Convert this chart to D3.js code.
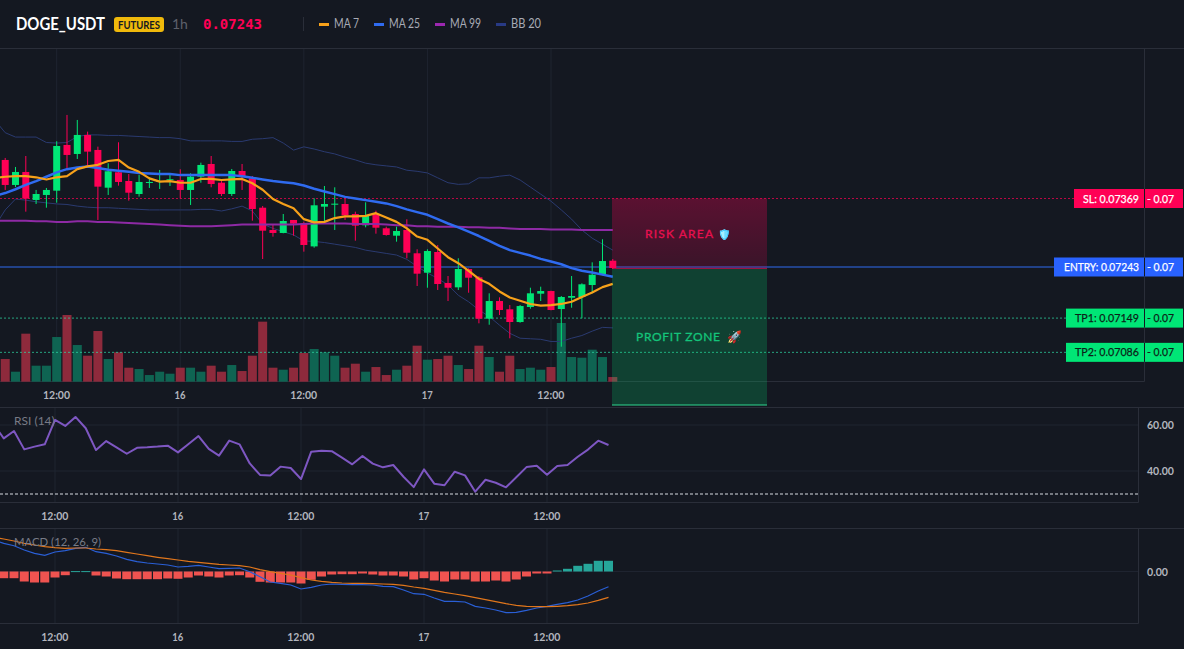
<!DOCTYPE html>
<html>
<head>
<meta charset="utf-8">
<script src="https://cdn.jsdelivr.net/npm/d3@7/dist/d3.min.js"></script>
<style>
  html, body { margin: 0; padding: 0; background: #141821; overflow: hidden; }
  svg { display: block; }
  text { font-family: Lato, "Noto Sans", sans-serif; }
</style>
</head>
<body>
<svg id="chart" width="1184" height="649"></svg>
<script>
// DOGE_USDT 1h candles. Prices are in units of 0.00001 USDT; hours count from 15th 12:00.
const hours = d3.range(-6, 55);

const opens = [
  7410, 7439.9, 7393.9, 7417.8, 7366.3, 7375.5, 7383.4, 7467.5, 7450.9, 7485.9,
  7458.3, 7388.9, 7417.2, 7401.2, 7377.3, 7398.1, 7399.9, 7402.5, 7403.1, 7384.7,
  7409.2, 7432.5, 7398.1, 7377.3, 7419.6, 7406.2, 7352.1, 7311.1, 7305.6, 7329.5,
  7323.4, 7280.9, 7354, 7357.6, 7358.9, 7340.5, 7319.7, 7340.5, 7314.2, 7300.6,
  7311.1, 7268.2, 7232.5, 7270.6, 7213.6, 7205.6, 7239.3, 7224, 7147.9, 7180.4,
  7165.2, 7141.8, 7169.4, 7193.9, 7198.8, 7165.7, 7186.5, 7187.8, 7209.9, 7228.8, 7254.6
];
const highs = [
  7445, 7443.6, 7427, 7447.2, 7384.7, 7388.4, 7474.3, 7522.7, 7513.5, 7492,
  7464.4, 7433.8, 7472.4, 7414.1, 7412.3, 7408, 7421.5, 7415.4, 7422.8, 7415.4,
  7434.9, 7447.2, 7403.1, 7423.3, 7432.5, 7410.4, 7355.2, 7320.3, 7340.5, 7329.5,
  7326.4, 7369.4, 7392, 7389.6, 7369.4, 7344.8, 7362, 7346.6, 7317.2, 7317.2,
  7330.8, 7275.6, 7275.6, 7283.5, 7226.4, 7259, 7240.6, 7226.4, 7194.6, 7187.2,
  7173.1, 7173.1, 7204.9, 7206.8, 7199.4, 7189.6, 7226.4, 7213, 7251.6, 7294, 7257.7
];
const lows = [
  7400, 7384.7, 7390.2, 7344.8, 7358.9, 7352.1, 7361.3, 7424.6, 7441.7, 7429.4,
  7329.5, 7375.5, 7392.6, 7365, 7372.4, 7388.4, 7386.5, 7392, 7368.7, 7357.1,
  7398.1, 7389.6, 7373.6, 7373.6, 7384.7, 7328.2, 7257.7, 7298.8, 7305, 7300.6,
  7271.2, 7278.5, 7326.4, 7311.1, 7329.5, 7291.4, 7316, 7304.3, 7300.6, 7289.6,
  7259, 7208, 7204.9, 7200.7, 7180.4, 7200.7, 7195.7, 7139.4, 7136.8, 7154.7,
  7111.8, 7140.5, 7166.3, 7180.4, 7163.3, 7096.4, 7168.1, 7148.6, 7194.6, 7227.7, 7239.3
];
const closes = [
  7439.9, 7393.9, 7417.8, 7368.7, 7377.3, 7384.7, 7465.6, 7449.1, 7485.9, 7455.2,
  7390.8, 7419.1, 7399.4, 7379.7, 7399.4, 7399.4, 7401.2, 7404.4, 7384.7, 7409.2,
  7430.7, 7395.7, 7377.3, 7419.6, 7410.4, 7349.7, 7309.8, 7305.6, 7327.6, 7322.7,
  7283.5, 7356.5, 7358.9, 7359.5, 7338.1, 7319, 7336.8, 7315.3, 7301.9, 7309.2,
  7269.3, 7230.7, 7272.4, 7211.7, 7204.9, 7239.3, 7223.3, 7147.9, 7180.4, 7163.9,
  7141.8, 7171.2, 7194.6, 7198.8, 7163.9, 7187.8, 7189.6, 7211.2, 7228.8, 7254, 7241.2
];
const volumes = [
  30, 34, 15, 72, 24, 24, 67, 100, 55, 39,
  76, 34, 44, 21, 19, 10, 15, 12, 21, 21,
  15, 24, 15, 25, 16, 39, 90, 21, 18, 21,
  43, 49, 44, 39, 21, 27, 15, 22, 10, 18,
  24, 54, 33, 34, 39, 25, 19, 54, 37, 15,
  39, 19, 21, 18, 22, 88, 37, 36, 48, 37, 7
];
const ma7 = [
  7407, 7409, 7410, 7410, 7408, 7404, 7408, 7410, 7423, 7428,
  7431, 7438, 7440, 7426, 7418, 7406, 7400, 7401, 7398, 7398,
  7405, 7405, 7403, 7404, 7405, 7397, 7385, 7368, 7359, 7351,
  7331, 7325, 7326, 7333, 7336, 7336, 7337, 7342, 7334, 7326,
  7314, 7299, 7293, 7277, 7261, 7250, 7236, 7221, 7212, 7198,
  7187, 7181, 7175, 7172, 7173, 7175, 7179, 7188, 7196, 7206, 7212
];
const ma25 = [
  7374, 7379, 7386, 7394, 7401, 7409, 7417, 7423, 7426, 7428,
  7425, 7422, 7420, 7418, 7416, 7415, 7414, 7414, 7412, 7412,
  7412, 7412, 7412, 7412, 7410, 7407, 7404, 7401, 7399, 7397,
  7393, 7387, 7382, 7377, 7372, 7369, 7366, 7363, 7360, 7355,
  7349, 7344, 7339, 7331, 7323, 7316, 7308, 7300, 7291, 7282,
  7274, 7269, 7264, 7258, 7253, 7248, 7241, 7236, 7233, 7229, 7225
];
const ma99 = [
  7328, 7328, 7328, 7328, 7327, 7327, 7326, 7326, 7327, 7327,
  7326, 7326, 7325, 7324, 7323, 7322, 7321, 7320, 7319, 7318,
  7318, 7318, 7319, 7320, 7321, 7321, 7321, 7321, 7321, 7321,
  7322, 7323, 7323, 7323, 7323, 7322, 7322, 7322, 7321, 7320,
  7320, 7318, 7318, 7317, 7317, 7317, 7316, 7316, 7315, 7315,
  7314, 7313, 7313, 7313, 7312, 7312, 7312, 7311, 7311, 7311, 7311
];
const bbUpper = [
  7513, 7490, 7482, 7482, 7482, 7472, 7471, 7472, 7483, 7486,
  7486, 7485, 7485, 7484, 7483, 7482, 7481, 7481, 7479, 7475,
  7475, 7475, 7475, 7474, 7474, 7478, 7479, 7481, 7471, 7458,
  7464, 7460, 7455, 7451, 7445, 7440, 7434, 7431, 7429, 7427,
  7421, 7419, 7416, 7407, 7398, 7395, 7396, 7407, 7407, 7410,
  7412, 7403, 7390, 7377, 7364, 7348, 7331, 7311, 7296, 7285, 7274
];
const bbLower = [
  7318, 7348, 7368, 7366, 7363, 7361, 7359, 7358, 7355, 7353,
  7352, 7352, 7351, 7350, 7349, 7348, 7348, 7348, 7348, 7348,
  7349, 7349, 7346, 7350, 7355, 7346, 7322, 7314, 7308, 7302,
  7291, 7290, 7288, 7285, 7282, 7279, 7274, 7271, 7268, 7265,
  7257, 7244, 7232, 7222, 7210, 7191, 7179, 7164, 7152, 7136,
  7121, 7112, 7111, 7110, 7106, 7106, 7112, 7117, 7125, 7132, 7131
];
const rsi = [
  60.4, 54.2, 57.4, 49.4, 50.6, 51.6, 62.2, 59.6, 63.5, 58.6,
  49.1, 53, 50.3, 47.5, 50.1, 50.3, 50.6, 51, 48.1, 51.6,
  55.2, 49.6, 46.7, 53.2, 51.6, 43.3, 38.3, 38, 41.9, 41.3,
  36.5, 48.4, 48.8, 48.6, 45.8, 42.9, 46.5, 43.2, 41.6, 42.6,
  37.5, 33, 40.7, 34.5, 33.8, 39.7, 38.1, 31, 36.2, 34.9,
  32.9, 37.3, 41.7, 42.3, 38.4, 42.2, 42.6, 46.2, 49.3, 53.2, 51.3
];
const macdLine = [
  31.5, 28.2, 25.8, 21.5, 18.2, 16.2, 19.5, 20.8, 23.2, 24.2,
  19.8, 18.2, 15.5, 12.2, 9.8, 8.5, 7.5, 6.5, 4.5, 5.2,
  6.2, 4.5, 2.8, 3.2, 3.5, -0.2, -5.2, -10.5, -11.8, -13.5,
  -17.5, -15.8, -13.5, -12.5, -12.8, -13.2, -13.2, -13.5, -14.8, -15.2,
  -18.5, -22.2, -22.8, -26.5, -29.8, -29.8, -30.5, -34.8, -36.5, -38.5,
  -41.2, -40.8, -38.8, -36.5, -34.8, -32.8, -31.2, -28.5, -24.5, -19.5, -15.2
];
const macdSignal = [
  34.5, 32.5, 30.5, 28.2, 26.5, 24.8, 23.8, 23.2, 23.5, 23.5,
  22.5, 21.8, 20.8, 19.2, 17.5, 15.8, 14.2, 12.8, 11.5, 10.2,
  9.2, 8.2, 7.2, 6.5, 5.8, 4.5, 1.8, -0.2, -1.8, -3.5,
  -6.2, -8.5, -9.8, -10.8, -11.5, -11.8, -11.8, -12.2, -12.5, -12.8,
  -13.8, -15.5, -16.8, -18.8, -20.8, -22.5, -24.2, -26.2, -28.2, -30.2,
  -32.2, -33.8, -34.8, -35.2, -35.2, -34.8, -34.2, -33.2, -31.5, -28.8, -25.8
];
const macdHist = [
  -7, -6.7, -6.7, -10, -11, -11, -6, -3.7, 0.4, 0.4,
  -4, -5, -7, -7.7, -7.7, -7.7, -7.7, -7, -7.3, -6,
  -4, -5, -6, -4, -3.7, -6, -10.3, -11, -11, -11,
  -12, -8.3, -5, -3, -2.7, -2.7, -2, -3, -4, -4,
  -5, -8, -6.7, -9, -10, -8, -8, -10, -10, -9,
  -10, -8, -5, -2, -2, 1, 2.7, 5.7, 7.7, 10.7, 10.7
];

// Trade levels and the time axis labels
const levelNames = ["SL", "ENTRY", "TP1", "TP2"];
const levelPrices = [7369, 7243, 7149, 7086];
const levelColors = ["#ff0055", "#2962ff", "#00e676", "#00e676"];
const levelInk = ["#ffffff", "#ffffff", "#0c1f18", "#0c1f18"];
const timeTicks = [0, 12, 24, 36, 48];
const timeLabels = ["12:00", "16", "12:00", "17", "12:00"];
const rsiTicks = [60, 40];
const legendNames = ["MA 7", "MA 25", "MA 99", "BB 20"];
const legendColors = ["#f7a11a", "#2f6bf0", "#9c27b0", "#283a85"];

const BG = "#141821", BORDER = "#2a2e39", GRID = "#1f2430";
const UP = "#00e676", DOWN = "#ff0055";

const svg = d3.select("#chart");
svg.append("rect").attr("width", 1184).attr("height", 649).attr("fill", BG);

// Scales for the price pane and the two indicator panes
const xMain = d3.scaleLinear().domain([0, 48]).range([56.7, 551]);
const xSub = d3.scaleLinear().domain([0, 48]).range([55, 547]);
const yPrice = d3.scaleLinear().domain([7243, 7369]).range([267, 198.5]);
const yVol = d3.scaleLinear().domain([0, 100]).range([381.7, 315]);
const yRsi = d3.scaleLinear().domain([40, 60]).range([471, 425]);
const yMacd = d3.scaleLinear().domain([0, 10]).range([571.5, 561.5]);

// Squeezes a label into a given pixel width
const squeeze = (sel, width) => sel.attr("textLength", width).attr("lengthAdjust", "spacingAndGlyphs");

const defs = svg.append("defs");
const riskGrad = defs.append("linearGradient").attr("id", "riskFill").attr("x1", 0).attr("x2", 0).attr("y1", 0).attr("y2", 1);
riskGrad.append("stop").attr("offset", "0%").attr("stop-color", "#ff0055").attr("stop-opacity", 0.30);
riskGrad.append("stop").attr("offset", "100%").attr("stop-color", "#ff0055").attr("stop-opacity", 0.16);

// Pane frames and grids
function frame(x1, y1, x2, y2) {
  svg.append("line").attr("x1", x1).attr("y1", y1).attr("x2", x2).attr("y2", y2)
    .attr("stroke", BORDER).attr("stroke-width", 1);
}
function verticalGrid(scale, top, bottom) {
  svg.append("g").selectAll("line").data(timeTicks).join("line")
    .attr("x1", d => scale(d)).attr("x2", d => scale(d))
    .attr("y1", top).attr("y2", bottom)
    .attr("stroke", GRID).attr("stroke-width", 1);
}
verticalGrid(xMain, 49, 381);
verticalGrid(xSub, 408, 502);
verticalGrid(xSub, 529, 623);
frame(0, 48.5, 1184, 48.5);
frame(0, 381.5, 1144.5, 381.5);
frame(1144.5, 49, 1144.5, 381.5);
frame(0, 407.5, 1184, 407.5);
frame(0, 502.5, 1138.5, 502.5);
frame(1138.5, 408, 1138.5, 502.5);
frame(0, 528.5, 1184, 528.5);
frame(0, 623.5, 1138.5, 623.5);
frame(1138.5, 529, 1138.5, 623.5);

// Time axes under each pane
function timeAxis(scale, y) {
  const g = svg.append("g").attr("transform", `translate(-0.7,${y})`)
    .call(d3.axisBottom(scale).tickValues(timeTicks).tickSize(0).tickPadding(0)
      .tickFormat((d, i) => timeLabels[i]));
  g.select(".domain").remove();
  g.selectAll("text").attr("fill", "#b2b5be").attr("font-size", 12).attr("font-weight", 700)
    .attr("font-family", "Lato, sans-serif").attr("dy", "0.71em")
    .attr("textLength", (d, i) => timeLabels[i].length > 2 ? 27 : 11)
    .attr("lengthAdjust", "spacingAndGlyphs");
}
timeAxis(xMain, 390);
timeAxis(xSub, 511);
timeAxis(xSub, 632);

// Volume bars
const isUp = i => closes[i] >= opens[i];
svg.append("g").selectAll("rect").data(hours).join("rect")
  .attr("x", d => xMain(d) - 4.5)
  .attr("width", 9)
  .attr("y", (d, i) => yVol(volumes[i]))
  .attr("height", (d, i) => yVol(0) - yVol(volumes[i]))
  .attr("fill", (d, i) => isUp(i) ? "#0f6452" : "#8e2a3c");

// Bollinger bands and moving averages
const priceLine = d3.line().x((d, i) => xMain(hours[i])).y(d => yPrice(d));
function drawPriceLine(values, color, width) {
  svg.append("path").attr("d", priceLine(values)).attr("fill", "none")
    .attr("stroke", color).attr("stroke-width", width).attr("stroke-linejoin", "round");
}
drawPriceLine(bbUpper, "#2a3a70", 1);
drawPriceLine(bbLower, "#2a3a70", 1);

// Trade level rules
levelNames.forEach((name, i) => {
  const y = yPrice(levelPrices[i]);
  const rule = svg.append("line").attr("x1", 0).attr("x2", 1074).attr("y1", y).attr("y2", y)
    .attr("stroke", i === 1 ? "#2f6bf0" : (i === 0 ? "#ff0055" : "#2fe0a8")).attr("stroke-width", 1);
  if (i !== 1) rule.attr("stroke-dasharray", "2 2").attr("stroke-opacity", 0.7);
});

// Candles
const candles = svg.append("g");
candles.selectAll("line").data(hours).join("line")
  .attr("x1", d => xMain(d)).attr("x2", d => xMain(d))
  .attr("y1", (d, i) => yPrice(highs[i])).attr("y2", (d, i) => yPrice(lows[i]))
  .attr("stroke", (d, i) => isUp(i) ? UP : DOWN).attr("stroke-width", 1);
candles.selectAll("rect").data(hours).join("rect")
  .attr("x", d => xMain(d) - 3.5).attr("width", 7)
  .attr("y", (d, i) => yPrice(Math.max(opens[i], closes[i])))
  .attr("height", (d, i) => Math.max(1, Math.abs(yPrice(opens[i]) - yPrice(closes[i]))))
  .attr("fill", (d, i) => isUp(i) ? UP : DOWN);

drawPriceLine(ma99, "#8e2aa5", 2);
drawPriceLine(ma25, "#2f6bf0", 2.5);
drawPriceLine(ma7, "#f7a11a", 2.2);

// Risk and profit zones beside the last candle
const boxX = 612, boxW = 155;
const riskBottom = yPrice(7243) + 1.5, profitBottom = 405;
svg.append("rect").attr("x", boxX).attr("y", yPrice(7369)).attr("width", boxW)
  .attr("height", riskBottom - yPrice(7369)).attr("fill", "url(#riskFill)");
svg.append("rect").attr("x", boxX).attr("y", riskBottom).attr("width", boxW)
  .attr("height", profitBottom - riskBottom).attr("fill", "#00e676").attr("fill-opacity", 0.2);
svg.append("line").attr("x1", boxX).attr("x2", boxX + boxW).attr("y1", riskBottom).attr("y2", riskBottom)
  .attr("stroke", "#ff0055").attr("stroke-opacity", 0.55);
svg.append("line").attr("x1", boxX).attr("x2", boxX + boxW).attr("y1", profitBottom).attr("y2", profitBottom)
  .attr("stroke", "#2fd890");
svg.append("text").attr("x", 645).attr("y", 238).attr("fill", "#e8104f").attr("font-size", 12)
  .attr("font-weight", 400).attr("stroke", "#e8104f").attr("stroke-width", 0.3).attr("textLength", 68).text("RISK AREA");
svg.append("text").attr("x", 718).attr("y", 238).attr("font-size", 10)
  .style("filter", "sepia(1) saturate(5) hue-rotate(165deg)").text("🛡️");
svg.append("text").attr("x", 636).attr("y", 341).attr("fill", "#14c47a").attr("font-size", 12)
  .attr("font-weight", 400).attr("stroke", "#14c47a").attr("stroke-width", 0.3).attr("textLength", 84).text("PROFIT ZONE");
svg.append("text").attr("x", 727).attr("y", 341).attr("font-size", 12).text("🚀");

// Price tags on the right edge
const tagLeft = [1074, 1054, 1066, 1066];
const tagTextWidth = [56, 75, 64, 64];
levelNames.forEach((name, i) => {
  const y = yPrice(levelPrices[i]);
  svg.append("rect").attr("x", tagLeft[i]).attr("y", y - 9.5).attr("width", 1183 - tagLeft[i]).attr("height", 19)
    .attr("fill", levelColors[i]);
  svg.append("line").attr("x1", 1144.5).attr("x2", 1144.5).attr("y1", y - 9.5).attr("y2", y + 9.5)
    .attr("stroke", BG).attr("stroke-width", 1);
  svg.append("text").attr("x", 1139 - tagTextWidth[i]).attr("y", y + 4)
    .attr("fill", levelInk[i]).attr("stroke", levelInk[i]).attr("stroke-width", 0.25).attr("font-size", 12)
    .call(squeeze, tagTextWidth[i])
    .text(`${name}: ${d3.format(".5f")(levelPrices[i] / 1e5)}`);
  svg.append("text").attr("x", 1147).attr("y", y + 4)
    .attr("fill", levelInk[i]).attr("stroke", levelInk[i]).attr("stroke-width", 0.25).attr("font-size", 12)
    .call(squeeze, 27)
    .text(`- ${d3.format(".2f")(levelPrices[i] / 1e5)}`);
});

// RSI pane
svg.append("g").selectAll("line").data(rsiTicks).join("line")
  .attr("x1", 0).attr("x2", 1138).attr("y1", d => yRsi(d)).attr("y2", d => yRsi(d)).attr("stroke", GRID);
svg.append("line").attr("x1", 0).attr("x2", 1138).attr("y1", yRsi(30)).attr("y2", yRsi(30))
  .attr("stroke", "#d8dbe2").attr("stroke-width", 1).attr("stroke-dasharray", "3 2");
svg.append("path").attr("fill", "none").attr("stroke", "#7e57c2").attr("stroke-width", 2)
  .attr("stroke-linejoin", "round")
  .attr("d", d3.line().x((d, i) => xSub(hours[i])).y(d => yRsi(d))(rsi));
const rsiAxis = svg.append("g").attr("transform", "translate(1147,0)")
  .call(d3.axisRight(yRsi).tickValues(rsiTicks).tickSize(0).tickPadding(0).tickFormat(d3.format(".2f")));
rsiAxis.select(".domain").remove();
rsiAxis.selectAll("text").attr("fill", "#b2b5be").attr("font-size", 12).attr("font-weight", 700)
  .attr("font-family", "Lato, sans-serif").call(squeeze, 27);
svg.append("text").attr("x", 14).attr("y", 425).attr("fill", "#787b86").attr("font-size", 12).text("RSI (14)");

// MACD pane
svg.append("line").attr("x1", 0).attr("x2", 1138).attr("y1", yMacd(0)).attr("y2", yMacd(0)).attr("stroke", GRID);
svg.append("g").selectAll("rect").data(hours).join("rect")
  .attr("x", d => xSub(d) - 4.5).attr("width", 9)
  .attr("y", (d, i) => yMacd(Math.max(0, macdHist[i])))
  .attr("height", (d, i) => Math.max(1, Math.abs(yMacd(macdHist[i]) - yMacd(0))))
  .attr("fill", (d, i) => macdHist[i] >= 0 ? "#26a69a" : "#ef5350");
const macdPath = d3.line().x((d, i) => xSub(hours[i])).y(d => yMacd(d));
svg.append("path").attr("d", macdPath(macdLine)).attr("fill", "none").attr("stroke", "#2a5fd6").attr("stroke-width", 1.2);
svg.append("path").attr("d", macdPath(macdSignal)).attr("fill", "none").attr("stroke", "#e0761c").attr("stroke-width", 1.2);
const macdAxis = svg.append("g").attr("transform", "translate(1147,0)")
  .call(d3.axisRight(yMacd).tickValues([0]).tickSize(0).tickPadding(0).tickFormat(d3.format(".2f")));
macdAxis.select(".domain").remove();
macdAxis.selectAll("text").attr("fill", "#b2b5be").attr("font-size", 12).attr("font-weight", 700)
  .attr("font-family", "Lato, sans-serif").call(squeeze, 21);
svg.append("text").attr("x", 14).attr("y", 546).attr("fill", "#787b86").attr("font-size", 12)
  .call(squeeze, 87).text("MACD (12, 26, 9)");

// Header: symbol, market badge, timeframe, last price and legend
svg.append("text").attr("x", 16).attr("y", 30).attr("fill", "#ffffff").attr("font-size", 16.5)
  .attr("font-weight", 700).call(squeeze, 89).text("DOGE_USDT");
svg.append("rect").attr("x", 114).attr("y", 17).attr("width", 50).attr("height", 15).attr("rx", 3).attr("fill", "#f0b90b");
svg.append("text").attr("x", 118).attr("y", 29).attr("fill", "#141821")
  .attr("font-size", 11).attr("font-weight", 700).call(squeeze, 42).text("FUTURES");
svg.append("text").attr("x", 172).attr("y", 29).attr("fill", "#5d606b").attr("font-size", 14).text("1h");
svg.append("text").attr("x", 203).attr("y", 29).attr("fill", "#ff0055").attr("font-size", 14)
  .attr("font-weight", 700).style("font-family", '"DejaVu Sans Mono", monospace')
  .text(d3.format(".5f")(levelPrices[1] / 1e5));
svg.append("line").attr("x1", 303.5).attr("x2", 303.5).attr("y1", 17).attr("y2", 31).attr("stroke", BORDER);
const legendX = [319, 374, 435, 496];
const legendWidth = [25, 31, 31, 30];
legendNames.forEach((name, i) => {
  svg.append("rect").attr("x", legendX[i]).attr("y", 23).attr("width", 10).attr("height", 3).attr("fill", legendColors[i]);
  svg.append("text").attr("x", legendX[i] + 15).attr("y", 28).attr("fill", "#a8abb5").attr("font-size", 12.5)
    .call(squeeze, legendWidth[i]).text(name);
});
</script>
</body>
</html>
